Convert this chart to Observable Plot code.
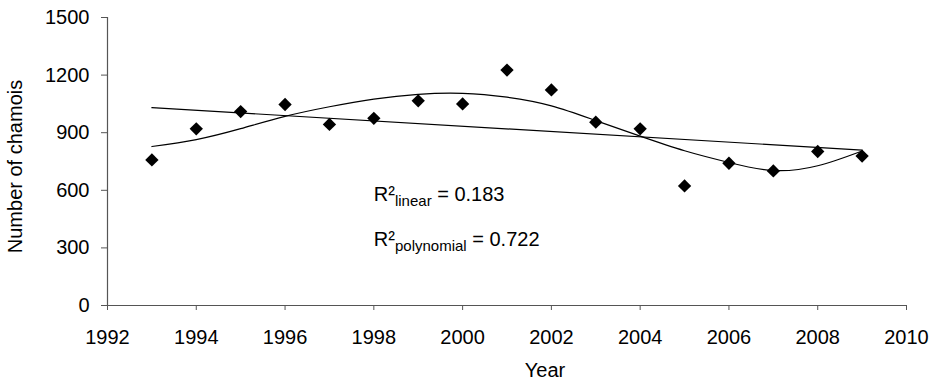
<!DOCTYPE html>
<html>
<head>
<meta charset="utf-8">
<script src="https://cdn.jsdelivr.net/npm/d3@7"></script>
<script src="https://cdn.jsdelivr.net/npm/@observablehq/plot@0.6"></script>
<style>
  html, body { margin: 0; padding: 0; background: #fff; }
</style>
</head>
<body>
<div id="chart"></div>
<script>
// Observed counts
const years = [1993, 1994, 1995, 1996, 1997, 1998, 1999, 2000, 2001, 2002, 2003, 2004, 2005, 2006, 2007, 2008, 2009];
const counts = [758, 920, 1010, 1047, 943, 975, 1066, 1050, 1226, 1123, 955, 920, 623, 741, 701, 802, 778];

// Polynomial trend line at each year
const polyYears = [1993, 1994, 1995, 1996, 1997, 1998, 1999, 2000, 2001, 2002, 2003, 2004, 2005, 2006, 2007, 2008, 2009];
const polyValues = [828, 864, 921, 985, 1035, 1075, 1100, 1105, 1085, 1040, 963, 882, 806, 745, 703, 728, 805];

// Axis ticks
const xTicks = [1992, 1994, 1996, 1998, 2000, 2002, 2004, 2006, 2008, 2010];
const yTicks = [0, 300, 600, 900, 1200, 1500];

// Annotations
const annYear = [1998, 1998];
const annValue = [542, 312];
const annSub = ["linear", "polynomial"];
const annR2 = ["0.183", "0.722"];

const data = years.map((x, i) => ({x, y: counts[i]}));
const poly = polyYears.map((x, i) => ({x, y: polyValues[i]}));
const ann = annYear.map((x, i) => ({x, y: annValue[i], sub: annSub[i], r2: annR2[i]}));

const axisColor = "#555";

const plot = Plot.plot({
  width: 936,
  height: 380,
  marginLeft: 107,
  marginRight: 30,
  marginTop: 17,
  marginBottom: 75,
  style: {fontFamily: "'Liberation Sans', Arial, sans-serif", fontSize: "20px", color: "#000", background: "#fff"},
  x: {domain: [1992, 2010]},
  y: {domain: [0, 1500]},
  marks: [
    Plot.axisX({ticks: xTicks, tickFormat: "d", tickSize: 5, tickPadding: 19, fontSize: 20, stroke: axisColor, fill: "#000", label: null}),
    Plot.axisY({ticks: yTicks, tickFormat: "d", tickSize: 6, tickPadding: 12, fontSize: 20, stroke: axisColor, fill: "#000", label: null}),
    Plot.ruleY([0], {stroke: axisColor, strokeWidth: 1.2}),
    Plot.ruleX([1992], {stroke: axisColor, strokeWidth: 1.2}),
    Plot.linearRegressionY(data, {x: "x", y: "y", stroke: "#000", strokeWidth: 1.2, ci: 0}),
    Plot.line(poly, {x: "x", y: "y", stroke: "#000", strokeWidth: 1.2, curve: "natural"}),
    Plot.dot(data, {x: "x", y: "y", symbol: "diamond2", r: 6, fill: "#000", stroke: null}),
    Plot.text(ann, {
      x: "x", y: "y", text: "r2", textAnchor: "start", lineAnchor: "bottom", fontSize: 20, fill: "#000",
      render(index, scales, values, dimensions, context, next) {
        const g = next(index, scales, values, dimensions, context);
        d3.select(g).selectAll("text").each(function(i) {
          const t = d3.select(this);
          t.text(null);
          t.append("tspan").text("R²");
          t.append("tspan").attr("font-size", 15).attr("dy", 5).text(ann[i].sub);
          t.append("tspan").attr("dy", -5).text(" = " + ann[i].r2);
        });
        return g;
      }
    }),
    Plot.text(["Number of chamois"], {text: d => d, frameAnchor: "left", textAnchor: "middle", rotate: -90, dx: -86, dy: 5, lineAnchor: "bottom", fontSize: 20, fill: "#000"}),
    Plot.text(["Year"], {text: d => d, frameAnchor: "bottom", textAnchor: "middle", dx: 38, dy: 71, lineAnchor: "bottom", fontSize: 20, fill: "#000"})
  ]
});

document.getElementById("chart").appendChild(plot);
</script>
</body>
</html>
